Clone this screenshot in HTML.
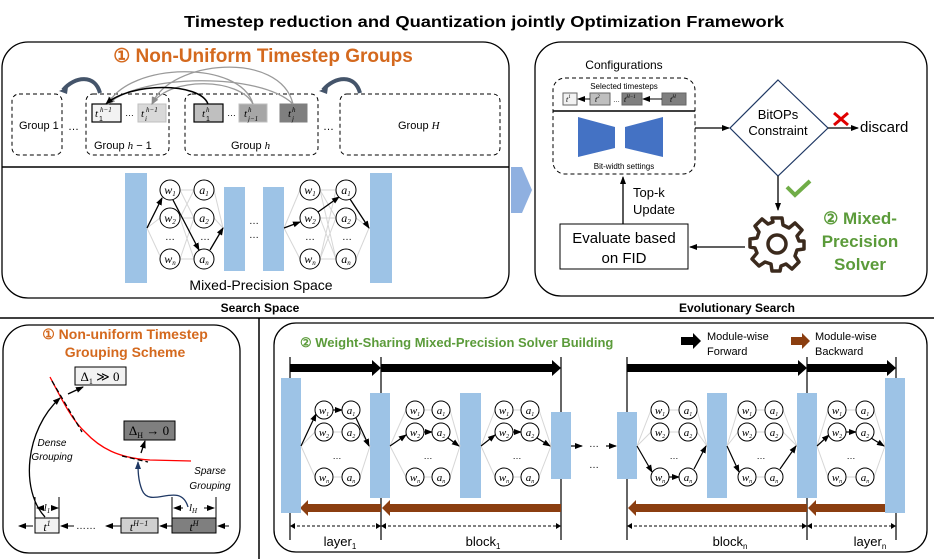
<!DOCTYPE html>
<html><head><meta charset="utf-8"><style>
html,body{margin:0;padding:0;background:#fff;}
svg{display:block;font-family:"Liberation Sans",sans-serif;}
.m{font-family:"Liberation Serif",serif;font-style:italic;}
</style></head><body>
<svg width="934" height="559" viewBox="0 0 934 559" xmlns="http://www.w3.org/2000/svg">
<defs>
<marker id="ab" markerWidth="8" markerHeight="8" refX="7" refY="4" orient="auto" markerUnits="userSpaceOnUse"><path d="M0,1 L8,4 L0,7z" fill="#000"/></marker>
<marker id="ag2" markerWidth="8" markerHeight="8" refX="7" refY="4" orient="auto" markerUnits="userSpaceOnUse"><path d="M0,1 L8,4 L0,7z" fill="#8c8c8c"/></marker>
<marker id="an" markerWidth="8" markerHeight="8" refX="7" refY="4" orient="auto" markerUnits="userSpaceOnUse"><path d="M0,1 L8,4 L0,7z" fill="#1f3864"/></marker>
</defs>

<text x="484" y="27" font-size="16" font-weight="bold" text-anchor="middle" textLength="600" lengthAdjust="spacingAndGlyphs">Timestep reduction and Quantization jointly Optimization Framework</text>

<!-- top-left box -->
<rect x="2" y="42" width="507" height="256" rx="26" fill="none" stroke="#000" stroke-width="1.3"/>
<line x1="2" y1="167" x2="509" y2="167" stroke="#000" stroke-width="1.5"/>
<text x="263" y="62" font-size="19" font-weight="bold" fill="#d4691e" text-anchor="middle">① Non-Uniform Timestep Groups</text>

<g fill="none" stroke="#000" stroke-dasharray="4,3">
<rect x="12" y="94" width="50" height="61" rx="7"/>
<rect x="86" y="94" width="83" height="61" rx="7"/>
<rect x="185" y="94" width="133" height="61" rx="7"/>
<rect x="340" y="94" width="160" height="61" rx="7"/>
</g>
<text x="19" y="129" font-size="11">Group 1</text>
<text x="68" y="130" font-size="11">…</text>
<text x="323" y="130" font-size="11">…</text>
<text x="94" y="149" font-size="11">Group <tspan class="m">h</tspan> − 1</text>
<text x="231" y="149" font-size="11">Group <tspan class="m">h</tspan></text>
<text x="398" y="129" font-size="11">Group <tspan class="m">H</tspan></text>

<!-- t boxes -->
<rect x="92" y="104" width="29" height="18" fill="#f2f2f2" stroke="#000" stroke-width="1.2"/>
<text x="95" y="117" font-size="11" class="m">t</text><text x="99" y="121" font-size="7">1</text><text x="100" y="112" font-size="7" class="m">h−1</text>
<text x="125" y="116" font-size="9">…</text>
<rect x="138" y="104" width="28" height="18" fill="#d9d9d9" stroke="#bfbfbf"/>
<text x="141" y="117" font-size="11" class="m">t</text><text x="145" y="121" font-size="7" class="m">i</text><text x="146" y="112" font-size="7" class="m">h−1</text>
<rect x="194" y="104" width="29" height="18" fill="#bfbfbf" stroke="#000" stroke-width="1.2"/>
<text x="202" y="117" font-size="11" class="m">t</text><text x="206" y="121" font-size="7">1</text><text x="206" y="112" font-size="7" class="m">h</text>
<text x="227" y="116" font-size="9">…</text>
<rect x="239" y="104" width="28" height="18" fill="#a6a6a6" stroke="#bfbfbf"/>
<text x="244" y="117" font-size="11" class="m">t</text><text x="248" y="121" font-size="7" class="m">j−1</text><text x="248" y="112" font-size="7" class="m">h</text>
<rect x="280" y="104" width="27" height="18" fill="#7f7f7f" stroke="#7f7f7f"/>
<text x="288" y="117" font-size="11" class="m">t</text><text x="292" y="121" font-size="7" class="m">j</text><text x="292" y="112" font-size="7" class="m">h</text>

<!-- arcs -->
<g fill="none" stroke="#9a9a9a" stroke-width="1.3">
<path d="M253,104 C240,60 130,62 108,104" marker-end="url(#ag2)"/>
<path d="M293,104 C280,50 170,60 152,104" marker-end="url(#ag2)"/>
<path d="M293,104 C260,72 140,74 108,104" marker-end="url(#ag2)"/>
<path d="M253,104 C240,78 170,76 152,104" marker-end="url(#ag2)"/>
</g>
<path d="M208,104 C200,82 130,82 106,104" fill="none" stroke="#000" stroke-width="1.5" marker-end="url(#ab)"/>
<path d="M100,93 C95,74 75,76 63,90" fill="none" stroke="#44546a" stroke-width="4"/>
<path d="M59,91 l9,-4 l-1,7z" fill="#44546a"/>
<path d="M360,93 C355,74 335,76 323,90" fill="none" stroke="#44546a" stroke-width="4"/>
<path d="M319,91 l9,-4 l-1,7z" fill="#44546a"/>

<!-- mixed precision space -->
<g fill="#9dc3e6">
<rect x="125" y="173" width="22" height="110"/>
<rect x="224" y="187" width="21" height="84"/>
<rect x="263" y="187" width="21" height="84"/>
<rect x="370" y="173" width="22" height="110"/>
</g>
<g stroke="#d6d6d6" stroke-width="1" fill="none">
<line x1="147" y1="228" x2="160" y2="218"/><line x1="147" y1="228" x2="160" y2="256"/>
<line x1="180" y1="190" x2="194" y2="190"/><line x1="180" y1="218" x2="194" y2="218"/><line x1="180" y1="259" x2="194" y2="259"/>
<line x1="180" y1="190" x2="194" y2="218"/><line x1="180" y1="218" x2="194" y2="190"/><line x1="180" y1="218" x2="194" y2="259"/><line x1="180" y1="259" x2="194" y2="218"/>
<line x1="214" y1="190" x2="223" y2="228"/><line x1="214" y1="218" x2="223" y2="228"/>
<line x1="284" y1="228" x2="300" y2="190"/><line x1="284" y1="228" x2="300" y2="259"/>
<line x1="320" y1="190" x2="336" y2="190"/><line x1="320" y1="218" x2="336" y2="218"/><line x1="320" y1="259" x2="336" y2="259"/>
<line x1="320" y1="190" x2="336" y2="218"/><line x1="320" y1="190" x2="336" y2="259"/><line x1="320" y1="259" x2="336" y2="190"/><line x1="320" y1="259" x2="336" y2="218"/><line x1="320" y1="218" x2="336" y2="259"/>
<line x1="356" y1="218" x2="369" y2="228"/><line x1="356" y1="259" x2="369" y2="228"/>
</g>
<g stroke="#000" stroke-width="1.3" fill="none" marker-end="url(#ab)">
<line x1="147" y1="228" x2="162" y2="198"/>
<line x1="173" y1="200" x2="199" y2="250"/>
<line x1="210" y1="250" x2="223" y2="228"/>
<line x1="284" y1="228" x2="300" y2="222"/>
<line x1="318" y1="212" x2="339" y2="197"/>
<line x1="350" y1="199" x2="369" y2="228"/>
</g>
<g fill="#fff" stroke="#000" stroke-width="1">
<circle cx="170" cy="190" r="10"/><circle cx="170" cy="218" r="10"/><circle cx="170" cy="259" r="10"/>
<circle cx="204" cy="190" r="10"/><circle cx="204" cy="218" r="10"/><circle cx="204" cy="259" r="10"/>
<circle cx="310" cy="190" r="10"/><circle cx="310" cy="218" r="10"/><circle cx="310" cy="259" r="10"/>
<circle cx="346" cy="190" r="10"/><circle cx="346" cy="218" r="10"/><circle cx="346" cy="259" r="10"/>
</g>
<g font-size="12" class="m" text-anchor="middle">
<text x="170" y="194">w<tspan font-size="7" dy="2">1</tspan></text><text x="170" y="222">w<tspan font-size="7" dy="2">2</tspan></text><text x="170" y="263">w<tspan font-size="7" dy="2">n</tspan></text>
<text x="204" y="194">a<tspan font-size="7" dy="2">1</tspan></text><text x="204" y="222">a<tspan font-size="7" dy="2">2</tspan></text><text x="204" y="263">a<tspan font-size="7" dy="2">n</tspan></text>
<text x="310" y="194">w<tspan font-size="7" dy="2">1</tspan></text><text x="310" y="222">w<tspan font-size="7" dy="2">2</tspan></text><text x="310" y="263">w<tspan font-size="7" dy="2">n</tspan></text>
<text x="346" y="194">a<tspan font-size="7" dy="2">1</tspan></text><text x="346" y="222">a<tspan font-size="7" dy="2">2</tspan></text><text x="346" y="263">a<tspan font-size="7" dy="2">n</tspan></text>
</g>
<g font-size="10" text-anchor="middle"><text x="170" y="240">…</text><text x="205" y="240">…</text><text x="310" y="240">…</text><text x="347" y="240">…</text><text x="254" y="224">…</text><text x="254" y="238">…</text></g>
<text x="261" y="290" font-size="14" text-anchor="middle">Mixed-Precision Space</text>

<!-- big arrow -->
<path d="M511,167 L522,167 L532,190 L522,213 L511,213 Z" fill="#8fb0e0"/>

<text x="260" y="312" font-size="12" font-weight="bold" text-anchor="middle">Search Space</text>
<text x="737" y="312" font-size="12" font-weight="bold" text-anchor="middle">Evolutionary Search</text>

<!-- right top box -->
<rect x="535" y="42" width="392" height="254" rx="26" fill="none" stroke="#000" stroke-width="1.3"/>
<text x="624" y="69" font-size="12" text-anchor="middle">Configurations</text>
<rect x="553" y="78" width="142" height="96" rx="12" fill="none" stroke="#000" stroke-dasharray="4,3"/>
<text x="624" y="89" font-size="8" text-anchor="middle">Selected timesteps</text>
<rect x="563" y="93" width="14" height="12" fill="#f2f2f2" stroke="#666"/>
<rect x="590" y="93" width="20" height="12" fill="#bfbfbf" stroke="#666"/>
<rect x="622" y="93" width="20" height="12" fill="#7f7f7f" stroke="#666"/>
<rect x="662" y="93" width="24" height="12" fill="#7f7f7f" stroke="#666"/>
<g font-size="8" class="m"><text x="566" y="102">t<tspan font-size="5" dy="-4">1</tspan></text><text x="595" y="102">t<tspan font-size="5" dy="-4">2</tspan></text><text x="624" y="102">t<tspan font-size="5" dy="-4">H−1</tspan></text><text x="670" y="102">t<tspan font-size="5" dy="-4">H</tspan></text></g>
<text x="613" y="102" font-size="7">…</text>
<g stroke="#000" fill="none" marker-end="url(#ab)"><line x1="590" y1="99" x2="578" y2="99"/><line x1="662" y1="99" x2="643" y2="99"/></g>
<line x1="553" y1="111" x2="695" y2="111" stroke="#000" stroke-width="1.5"/>
<path d="M578,117 L615,127 L615,148 L578,157 Z" fill="#4472c4"/>
<path d="M625,127 L663,117 L663,157 L625,148 Z" fill="#4472c4"/>
<text x="624" y="169" font-size="8" text-anchor="middle">Bit-width settings</text>
<line x1="695" y1="128" x2="729" y2="128" stroke="#000" stroke-width="1.3" marker-end="url(#ab)"/>
<path d="M778,80 L828,128 L778,176 L730,128 Z" fill="#fff" stroke="#1f3864" stroke-width="1.2"/>
<text x="778" y="119" font-size="13" text-anchor="middle">BitOPs</text>
<text x="778" y="135" font-size="13" text-anchor="middle">Constraint</text>
<line x1="828" y1="128" x2="858" y2="128" stroke="#000" stroke-width="1.3" marker-end="url(#ab)"/>
<path d="M834,113 L848,125 M848,113 L834,125" stroke="#e00000" stroke-width="3"/>
<text x="860" y="132" font-size="15">discard</text>
<line x1="778" y1="176" x2="778" y2="210" stroke="#000" stroke-width="1.3" marker-end="url(#ab)"/>
<path d="M787,187 L795,195 L810,181" fill="none" stroke="#70ad47" stroke-width="4"/>
<!-- gear (outline) -->
<g transform="translate(777,244)" fill="none" stroke="#3b2a1d" stroke-width="3.5" stroke-linejoin="round">
<path d="M-5,-26 L5,-26 L6,-19 L12,-16 L18,-21 L25,-14 L20,-8 L22,-3 L27,-3 L27,5 L20,6 L18,12 L22,18 L15,25 L9,20 L4,22 L3,27 L-5,27 L-6,20 L-12,18 L-18,22 L-25,15 L-20,9 L-22,4 L-27,3 L-27,-5 L-20,-6 L-18,-12 L-22,-18 L-15,-25 L-9,-20 L-4,-22 Z"/>
<circle r="9"/>
</g>
<g font-size="17" font-weight="bold" fill="#5b9b3a" text-anchor="middle"><text x="860" y="224">② Mixed-</text><text x="860" y="247">Precision</text><text x="860" y="270">Solver</text></g>
<line x1="745" y1="247" x2="690" y2="247" stroke="#000" stroke-width="1.3" marker-end="url(#ab)"/>
<rect x="560" y="224" width="128" height="45" fill="#fff" stroke="#000" stroke-width="1"/>
<text x="624" y="243" font-size="15" text-anchor="middle">Evaluate based</text>
<text x="624" y="263" font-size="15" text-anchor="middle">on FID</text>
<line x1="623" y1="224" x2="623" y2="177" stroke="#000" stroke-width="1.3" marker-end="url(#ab)"/>
<text x="633" y="197" font-size="13">Top-k</text>
<text x="633" y="214" font-size="13">Update</text>

<!-- separators -->
<line x1="0" y1="318" x2="934" y2="318" stroke="#000" stroke-width="1.5"/>
<line x1="259" y1="318" x2="259" y2="559" stroke="#000" stroke-width="1.5"/>

<!-- bottom-left box -->
<rect x="3" y="325" width="237" height="228" rx="26" fill="none" stroke="#000" stroke-width="1.3"/>
<g font-size="14" font-weight="bold" fill="#d4691e" text-anchor="middle"><text x="125" y="339">① Non-uniform Timestep</text><text x="125" y="357">Grouping  Scheme</text></g>
<path d="M50,377 C62,400 72,420 85,432 C100,448 118,458 150,460 L191,461" fill="none" stroke="#ff0000" stroke-width="1.3"/>
<path d="M52,381 L82,432 M122,456 L148,462" fill="none" stroke="#000" stroke-width="1.3" stroke-dasharray="5,3"/>
<rect x="75" y="367" width="51" height="18" fill="#f2f2f2" stroke="#000"/>
<text x="100" y="381" font-size="13" text-anchor="middle" font-family="Liberation Serif,serif">Δ<tspan font-size="8" dy="3">1</tspan><tspan dy="-3"> ≫ 0</tspan></text>
<line x1="68" y1="394" x2="83" y2="387" stroke="#000" stroke-width="1.3" marker-end="url(#ab)"/>
<rect x="124" y="421" width="51" height="19" fill="#7f7f7f" stroke="#000"/>
<text x="149" y="435" font-size="13" text-anchor="middle" font-family="Liberation Serif,serif">Δ<tspan font-size="8" dy="3">H</tspan><tspan dy="-3"> → 0</tspan></text>
<line x1="141" y1="453" x2="145" y2="441" stroke="#000" stroke-width="1.3" marker-end="url(#ab)"/>
<path d="M45,517 C20,490 25,430 60,398" fill="none" stroke="#000" stroke-width="1.3" marker-end="url(#ab)"/>
<g font-size="10" font-style="italic" text-anchor="middle"><text x="52" y="446">Dense</text><text x="52" y="460">Grouping</text><text x="210" y="474">Sparse</text><text x="210" y="489">Grouping</text></g>
<path d="M188,507 C180,480 150,510 142,490 C138,480 138,470 138,462" fill="none" stroke="#1f3864" stroke-width="1.3" marker-end="url(#an)"/>
<rect x="35" y="518" width="24" height="15" fill="#f2f2f2" stroke="#000"/>
<rect x="121" y="518" width="37" height="15" fill="#d0d0d0" stroke="#000"/>
<rect x="172" y="518" width="44" height="15" fill="#7f7f7f" stroke="#000"/>
<g font-size="12" class="m" text-anchor="middle"><text x="47" y="531">t<tspan font-size="8" dy="-5">1</tspan></text><text x="139" y="531">t<tspan font-size="8" dy="-5">H−1</tspan></text><text x="194" y="531">t<tspan font-size="8" dy="-5">H</tspan></text></g>
<g stroke="#000" fill="none"><line x1="35" y1="497" x2="35" y2="518"/><line x1="59" y1="497" x2="59" y2="518"/><line x1="172" y1="497" x2="172" y2="518"/><line x1="216" y1="497" x2="216" y2="518"/></g>
<text x="47" y="511" font-size="11" class="m" text-anchor="middle">l<tspan font-size="7" dy="2">1</tspan></text>
<text x="193" y="511" font-size="11" class="m" text-anchor="middle">l<tspan font-size="7" dy="2">H</tspan></text>
<g stroke="#000" marker-end="url(#ab)"><line x1="41" y1="508" x2="37" y2="508"/><line x1="53" y1="508" x2="58" y2="508"/><line x1="183" y1="508" x2="174" y2="508"/><line x1="204" y1="508" x2="214" y2="508"/>
<line x1="33" y1="526" x2="19" y2="526"/><line x1="74" y1="526" x2="61" y2="526"/><line x1="121" y1="526" x2="106" y2="526"/><line x1="172" y1="526" x2="160" y2="526"/><line x1="229" y1="526" x2="218" y2="526"/></g>
<text x="76" y="529" font-size="10">……</text>

<!-- bottom-right box -->
<rect x="274" y="323" width="653" height="229" rx="22" fill="none" stroke="#000" stroke-width="1.3"/>
<text x="300" y="347" font-size="13" font-weight="bold" fill="#5b9b3a">② Weight-Sharing Mixed-Precision Solver Building</text>
<path d="M681,337 L693,337 L693,333 L701,341 L693,349 L693,345 L681,345 Z" fill="#000"/>
<path d="M791,337 L802,337 L802,333 L810,341 L802,349 L802,345 L791,345 Z" fill="#8b3e10"/>
<g font-size="11"><text x="707" y="340">Module-wise</text><text x="707" y="355">Forward</text><text x="815" y="340">Module-wise</text><text x="815" y="355">Backward</text></g>
<g stroke="#000" stroke-width="1.2"><line x1="290" y1="357" x2="290" y2="540"/><line x1="381" y1="357" x2="381" y2="540"/><line x1="561" y1="357" x2="561" y2="540"/><line x1="627" y1="357" x2="627" y2="540"/><line x1="807" y1="357" x2="807" y2="540"/><line x1="896" y1="357" x2="896" y2="540"/></g>
<g fill="#000">
<path d="M290,364 L372,364 L372,360 L381,368 L372,376 L372,372 L290,372Z"/>
<path d="M381,364 L552,364 L552,360 L561,368 L552,376 L552,372 L381,372Z"/>
<path d="M627,364 L798,364 L798,360 L807,368 L798,376 L798,372 L627,372Z"/>
<path d="M807,364 L887,364 L887,360 L896,368 L887,376 L887,372 L807,372Z"/>
</g>
<g fill="#8b3e10">
<path d="M381,504 L308,504 L308,500 L300,508 L308,516 L308,512 L381,512Z"/>
<path d="M561,504 L390,504 L390,500 L382,508 L390,516 L390,512 L561,512Z"/>
<path d="M807,504 L636,504 L636,500 L628,508 L636,516 L636,512 L807,512Z"/>
<path d="M885,504 L816,504 L816,500 L808,508 L816,516 L816,512 L885,512Z"/>
</g>
<g stroke="#000" stroke-dasharray="3,2" fill="none"><line x1="292" y1="526" x2="379" y2="526"/><line x1="383" y1="526" x2="559" y2="526"/><line x1="629" y1="526" x2="805" y2="526"/><line x1="809" y1="526" x2="894" y2="526"/></g>
<g fill="#000"><path d="M290,526 l5,-3 v6z M381,526 l-5,-3 v6z M381,526 l5,-3 v6z M561,526 l-5,-3 v6z M627,526 l5,-3 v6z M807,526 l-5,-3 v6z M807,526 l5,-3 v6z M896,526 l-5,-3 v6z"/></g>
<g font-size="13" text-anchor="middle"><text x="340" y="546">layer<tspan font-size="8" dy="3">1</tspan></text><text x="483" y="546">block<tspan font-size="8" dy="3">1</tspan></text><text x="730" y="546">block<tspan font-size="8" dy="3">n</tspan></text><text x="870" y="546">layer<tspan font-size="8" dy="3">n</tspan></text></g>

<g fill="#9dc3e6">
<rect x="281" y="378" width="20" height="135"/>
<rect x="370" y="393" width="20" height="105"/>
<rect x="460" y="393" width="21" height="105"/>
<rect x="551" y="412" width="20" height="67"/>
<rect x="617" y="412" width="20" height="67"/>
<rect x="707" y="393" width="20" height="105"/>
<rect x="797" y="393" width="20" height="105"/>
<rect x="885" y="378" width="20" height="135"/>
</g>
<g stroke="#000" stroke-width="1.2" marker-end="url(#ab)"><line x1="571" y1="446" x2="582" y2="446"/><line x1="606" y1="446" x2="616" y2="446"/></g>
<g font-size="10" text-anchor="middle"><text x="594" y="447">…</text><text x="594" y="468">…</text></g>

<g stroke="#d6d6d6" fill="none">
<path d="M301,446 L315,432 M301,446 L315,477 M333,432 L342,432 M333,477 L342,477 M360,432 L370,446 M360,477 L370,446"/>
<path d="M390,446 L406,410 M390,446 L406,477 M424,410 L432,410 M424,477 L432,477 M450,410 L460,446 M450,477 L460,446"/>
<path d="M481,446 L495,410 M481,446 L495,477 M513,410 L521,410 M513,477 L521,477 M539,410 L551,446 M539,477 L551,446"/>
<path d="M637,446 L651,410 M637,446 L651,432 M669,410 L679,410 M669,432 L679,432 M697,410 L707,446 M697,432 L707,446"/>
<path d="M727,446 L738,410 M727,446 L738,432 M756,410 L765,410 M756,432 L765,432 M756,477 L765,477 M783,410 L797,446 M783,432 L797,446"/>
<path d="M817,446 L828,410 M817,446 L828,477 M846,410 L856,410 M846,477 L856,477 M874,410 L885,446 M874,477 L885,446"/>
</g>
<g stroke="#000" stroke-width="1.2" fill="none" marker-end="url(#ab)">
<line x1="301" y1="446" x2="316" y2="414"/><line x1="333" y1="410" x2="342" y2="410"/><line x1="356" y1="418" x2="369" y2="446"/>
<line x1="390" y1="446" x2="406" y2="435"/><line x1="424" y1="432" x2="432" y2="432"/><line x1="448" y1="438" x2="459" y2="446"/>
<line x1="481" y1="446" x2="495" y2="435"/><line x1="513" y1="432" x2="521" y2="432"/><line x1="537" y1="438" x2="550" y2="446"/>
<line x1="637" y1="446" x2="652" y2="472"/><line x1="669" y1="477" x2="679" y2="477"/><line x1="694" y1="469" x2="706" y2="446"/>
<line x1="727" y1="446" x2="739" y2="472"/><line x1="780" y1="469" x2="796" y2="446"/>
<line x1="817" y1="446" x2="829" y2="435"/><line x1="846" y1="432" x2="856" y2="432"/><line x1="871" y1="438" x2="884" y2="446"/>
</g>
<g fill="#fff" stroke="#000">
<circle cx="324" cy="410" r="9"/><circle cx="324" cy="432" r="9"/><circle cx="324" cy="477" r="9"/><circle cx="351" cy="410" r="9"/><circle cx="351" cy="432" r="9"/><circle cx="351" cy="477" r="9"/>
<circle cx="415" cy="410" r="9"/><circle cx="415" cy="432" r="9"/><circle cx="415" cy="477" r="9"/><circle cx="441" cy="410" r="9"/><circle cx="441" cy="432" r="9"/><circle cx="441" cy="477" r="9"/>
<circle cx="504" cy="410" r="9"/><circle cx="504" cy="432" r="9"/><circle cx="504" cy="477" r="9"/><circle cx="530" cy="410" r="9"/><circle cx="530" cy="432" r="9"/><circle cx="530" cy="477" r="9"/>
<circle cx="660" cy="410" r="9"/><circle cx="660" cy="432" r="9"/><circle cx="660" cy="477" r="9"/><circle cx="688" cy="410" r="9"/><circle cx="688" cy="432" r="9"/><circle cx="688" cy="477" r="9"/>
<circle cx="747" cy="410" r="9"/><circle cx="747" cy="432" r="9"/><circle cx="747" cy="477" r="9"/><circle cx="774" cy="410" r="9"/><circle cx="774" cy="432" r="9"/><circle cx="774" cy="477" r="9"/>
<circle cx="837" cy="410" r="9"/><circle cx="837" cy="432" r="9"/><circle cx="837" cy="477" r="9"/><circle cx="865" cy="410" r="9"/><circle cx="865" cy="432" r="9"/><circle cx="865" cy="477" r="9"/>
</g>
<g font-size="11" class="m" text-anchor="middle">
<text x="324" y="414">w<tspan font-size="6" dy="2">1</tspan></text><text x="324" y="436">w<tspan font-size="6" dy="2">2</tspan></text><text x="324" y="481">w<tspan font-size="6" dy="2">n</tspan></text><text x="351" y="414">a<tspan font-size="6" dy="2">1</tspan></text><text x="351" y="436">a<tspan font-size="6" dy="2">2</tspan></text><text x="351" y="481">a<tspan font-size="6" dy="2">n</tspan></text>
<text x="415" y="414">w<tspan font-size="6" dy="2">1</tspan></text><text x="415" y="436">w<tspan font-size="6" dy="2">2</tspan></text><text x="415" y="481">w<tspan font-size="6" dy="2">n</tspan></text><text x="441" y="414">a<tspan font-size="6" dy="2">1</tspan></text><text x="441" y="436">a<tspan font-size="6" dy="2">2</tspan></text><text x="441" y="481">a<tspan font-size="6" dy="2">n</tspan></text>
<text x="504" y="414">w<tspan font-size="6" dy="2">1</tspan></text><text x="504" y="436">w<tspan font-size="6" dy="2">2</tspan></text><text x="504" y="481">w<tspan font-size="6" dy="2">n</tspan></text><text x="530" y="414">a<tspan font-size="6" dy="2">1</tspan></text><text x="530" y="436">a<tspan font-size="6" dy="2">2</tspan></text><text x="530" y="481">a<tspan font-size="6" dy="2">n</tspan></text>
<text x="660" y="414">w<tspan font-size="6" dy="2">1</tspan></text><text x="660" y="436">w<tspan font-size="6" dy="2">2</tspan></text><text x="660" y="481">w<tspan font-size="6" dy="2">n</tspan></text><text x="688" y="414">a<tspan font-size="6" dy="2">1</tspan></text><text x="688" y="436">a<tspan font-size="6" dy="2">2</tspan></text><text x="688" y="481">a<tspan font-size="6" dy="2">n</tspan></text>
<text x="747" y="414">w<tspan font-size="6" dy="2">1</tspan></text><text x="747" y="436">w<tspan font-size="6" dy="2">2</tspan></text><text x="747" y="481">w<tspan font-size="6" dy="2">n</tspan></text><text x="774" y="414">a<tspan font-size="6" dy="2">1</tspan></text><text x="774" y="436">a<tspan font-size="6" dy="2">2</tspan></text><text x="774" y="481">a<tspan font-size="6" dy="2">n</tspan></text>
<text x="837" y="414">w<tspan font-size="6" dy="2">1</tspan></text><text x="837" y="436">w<tspan font-size="6" dy="2">2</tspan></text><text x="837" y="481">w<tspan font-size="6" dy="2">n</tspan></text><text x="865" y="414">a<tspan font-size="6" dy="2">1</tspan></text><text x="865" y="436">a<tspan font-size="6" dy="2">2</tspan></text><text x="865" y="481">a<tspan font-size="6" dy="2">n</tspan></text>
</g>
<g font-size="9" text-anchor="middle"><text x="337" y="459">…</text><text x="428" y="459">…</text><text x="517" y="459">…</text><text x="674" y="459">…</text><text x="761" y="459">…</text><text x="851" y="459">…</text></g>
</svg>
</body></html>
